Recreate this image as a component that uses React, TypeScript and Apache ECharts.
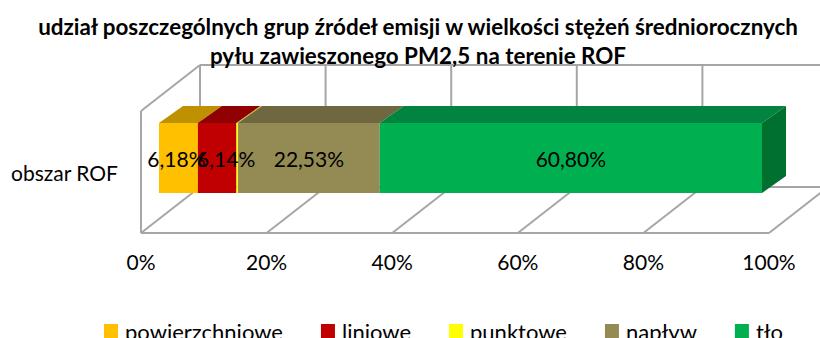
import React, { useEffect, useRef } from "react";
import * as echarts from "echarts";

const titleText = "udział poszczególnych grup źródeł emisji w wielkości stężeń średniorocznych\npyłu zawieszonego PM2,5 na terenie ROF";
const categories = ["obszar ROF"];
const seriesNames = ["powierzchniowe", "liniowe", "punktowe", "napływ", "tło"];
const seriesValues = [6.18, 6.14, 0.25, 22.53, 60.8];
const labelTexts = ["6,18%", "6,14%", "", "22,53%", "60,80%"];
const axisTicks = [0, 20, 40, 60, 80, 100];

const FRONT = ["#FFC000", "#C00000", "#FFFF00", "#948A54", "#00B050"];
const TOP = ["#BF9000", "#900000", "#BFBF00", "#6F6740", "#008440"];
const SIDE = "#00702F";
const FRAME = "#A6A6A6";
const FONT = "Lato";
const LABEL_SHIFT = [-2, 9, 0, 0, 0];
const DEPTH_X = 59, DEPTH_Y = 46; // chart box depth
const BAR_DX = 24, BAR_DY = 17; // bar depth

const total = seriesValues.reduce((a, b) => a + b, 0);
const cumBefore = (i: number) => seriesValues.slice(0, i).reduce((a, b) => a + b, 0);

export default function App() {
  const ref = useRef<HTMLDivElement>(null);
  useEffect(() => {
    document.body.style.margin = "0";
    const chart = echarts.init(ref.current!, undefined, { renderer: "svg" });
    const frameStyle = { stroke: FRAME, lineWidth: 2, fill: "none" };
    const line = (x1: number, y1: number, x2: number, y2: number) => ({
      type: "line", shape: { x1, y1, x2, y2 }, style: frameStyle,
    });

    const frameSeries: any = {
      type: "custom",
      name: "frame",
      xAxisIndex: 0,
      yAxisIndex: 0,
      z: 1,
      silent: true,
      data: axisTicks.map((t) => [t, 0]),
      renderItem: (_p: any, api: any) => {
        const t = api.value(0);
        const [x] = api.coord([t, 0]);
        const rect = _p.coordSys;
        const bottom = rect.y + rect.height;
        const top = rect.y;
        const children: any[] = [
          line(x, bottom, x + DEPTH_X, bottom - DEPTH_Y),
          line(x + DEPTH_X, top - DEPTH_Y, x + DEPTH_X, bottom - DEPTH_Y),
        ];
        if (t === 0) {
          children.push(line(x, top, x, bottom));
          children.push(line(x, top, x + DEPTH_X, top - DEPTH_Y));
          children.push(line(x, bottom, rect.x + rect.width, bottom));
          children.push(line(x + DEPTH_X, top - DEPTH_Y, rect.x + rect.width + DEPTH_X, top - DEPTH_Y));
          children.push(line(x + DEPTH_X, bottom - DEPTH_Y, rect.x + rect.width + DEPTH_X, bottom - DEPTH_Y));
        }
        return { type: "group", children };
      },
    };

    const barSeries: any[] = seriesNames.map((name, i) => {
      const before = cumBefore(i);
      return {
        type: "custom",
        name,
        xAxisIndex: 1,
        yAxisIndex: 1,
        z: 2 + i,
        itemStyle: { color: FRONT[i] },
        data: [[seriesValues[i], categories[0]]],
        renderItem: (_p: any, api: any) => {
          const [x0, yc] = api.coord([(before / total) * 100, 0]);
          const [x1] = api.coord([((before + api.value(0)) / total) * 100, 0]);
          const h = api.size([0, 1])[1];
          const y0 = yc - h / 2;
          const children: any[] = [
            {
              type: "polygon",
              shape: { points: [[x0, y0], [x1, y0], [x1 + BAR_DX, y0 - BAR_DY], [x0 + BAR_DX, y0 - BAR_DY]] },
              style: { fill: TOP[i] },
            },
            { type: "rect", shape: { x: x0, y: y0, width: x1 - x0, height: h }, style: { fill: FRONT[i] } },
          ];
          if (i === seriesNames.length - 1) {
            children.push({
              type: "polygon",
              shape: { points: [[x1, y0], [x1 + BAR_DX, y0 - BAR_DY], [x1 + BAR_DX, y0 + h - BAR_DY], [x1, y0 + h]] },
              style: { fill: SIDE },
            });
          }
          return { type: "group", children };
        },
      };
    });

    const labelSeries: any = {
      type: "custom",
      name: "labels",
      xAxisIndex: 1,
      yAxisIndex: 1,
      z: 20,
      silent: true,
      data: seriesValues.map((v, i) => [v, 0, i]),
      renderItem: (_p: any, api: any) => {
        const i = api.value(2);
        const before = cumBefore(i);
        const [x0, yc] = api.coord([(before / total) * 100, 0]);
        const [x1] = api.coord([((before + seriesValues[i]) / total) * 100, 0]);
        if (!labelTexts[i]) return { type: "group", children: [] };
        return {
          type: "text",
          style: {
            text: labelTexts[i],
            x: (x0 + x1) / 2 + LABEL_SHIFT[i],
            y: yc,
            align: "center",
            verticalAlign: "middle",
            font: `21px ${FONT}`,
            fill: "#000",
          },
        };
      },
    };

    chart.setOption({
      animation: false,
      backgroundColor: "#fff",
      title: {
        text: titleText,
        left: 413,
        top: 7,
        textAlign: "center",
        textStyle: { fontFamily: FONT, fontWeight: "bold", fontSize: 22.4, lineHeight: 29, color: "#000" },
      },
      legend: {
        data: seriesNames,
        left: 99,
        top: 315,
        itemWidth: 14,
        itemHeight: 14,
        itemGap: 38,
        icon: "rect",
        textStyle: { fontFamily: FONT, fontSize: 22, color: "#000", padding: [0, 0, 0, 2] },
      },
      grid: [
        { left: 141, top: 111, width: 628, height: 122 },
        { left: 159, top: 123, width: 603, height: 70 },
      ],
      xAxis: [
        {
          type: "value", gridIndex: 0, min: 0, max: 100, interval: 20,
          axisLabel: { formatter: "{value}%", fontFamily: FONT, fontSize: 21, color: "#000", margin: 18 },
          axisLine: { show: false }, axisTick: { show: false }, splitLine: { show: false },
        },
        { type: "value", gridIndex: 1, min: 0, max: 100, show: false, splitLine: { show: false } },
      ],
      yAxis: [
        {
          type: "category", gridIndex: 0, data: categories,
          axisLabel: { fontFamily: FONT, fontSize: 21, color: "#000", margin: 23 },
          axisLine: { show: false }, axisTick: { show: false }, splitLine: { show: false },
        },
        { type: "category", gridIndex: 1, data: categories, show: false },
      ],
      series: [frameSeries, ...barSeries, labelSeries],
    });
    return () => chart.dispose();
  }, []);
  return <div ref={ref} style={{ width: 820, height: 338 }} />;
}
